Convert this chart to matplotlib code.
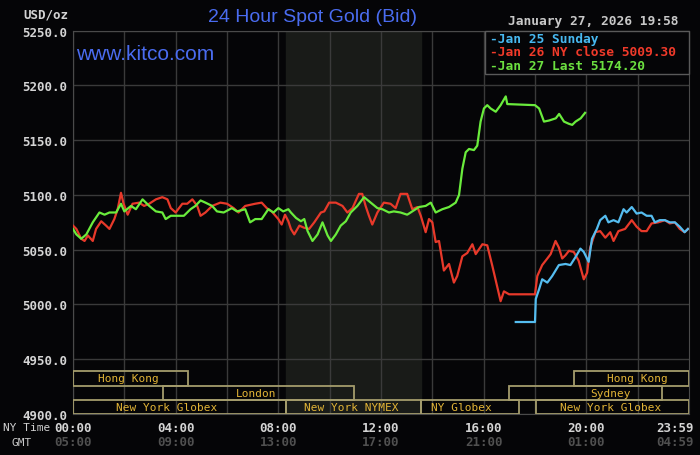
import matplotlib
matplotlib.use("Agg")
import matplotlib.pyplot as plt
from matplotlib.patches import Rectangle
import numpy as np

# --- data (hours NY time, USD/oz) ---
jan26_hours = [0.0, 0.13, 0.32, 0.45, 0.58, 0.77, 0.90, 1.10, 1.29, 1.42, 1.61, 1.74, 1.87, 1.97,
               2.13, 2.32, 2.58, 2.77, 2.97, 3.23, 3.48, 3.68, 3.81, 4.00, 4.26, 4.45, 4.65, 4.84,
               4.97, 5.16, 5.42, 5.74, 6.00, 6.26, 6.45, 6.71, 7.10, 7.35, 7.55, 7.74, 8.00, 8.13,
               8.26, 8.39, 8.49, 8.62, 8.82, 9.01, 9.20, 9.40, 9.66, 9.79, 9.98, 10.24, 10.50,
               10.69, 10.89, 11.14, 11.27, 11.40, 11.53, 11.66, 11.86, 12.11, 12.37, 12.57, 12.76,
               13.02, 13.22, 13.42, 13.55, 13.74, 13.87, 14.00, 14.13, 14.26, 14.45, 14.65, 14.84,
               14.97, 15.17, 15.36, 15.56, 15.69, 15.95, 16.14, 16.34, 16.47, 16.66, 16.79, 16.99,
               18.00, 18.09, 18.28, 18.48, 18.61, 18.80, 18.93, 19.06, 19.19, 19.32, 19.51, 19.70,
               19.90, 20.03, 20.15, 20.35, 20.54, 20.74, 20.93, 21.06, 21.25, 21.51, 21.77, 21.96,
               22.15, 22.35, 22.54, 22.80, 23.06, 23.25, 23.45, 23.64, 23.83, 23.96]
jan26_price = [5072, 5069, 5060, 5058, 5063, 5058, 5069, 5076, 5072, 5069, 5078, 5087, 5102, 5092,
               5082, 5092, 5093, 5090, 5092, 5096, 5098, 5096, 5088, 5084, 5092, 5092, 5096, 5090,
               5081, 5084, 5090, 5093, 5092, 5088, 5084, 5090, 5092, 5093, 5088, 5085, 5078, 5073,
               5082, 5076, 5069, 5064, 5072, 5070, 5069, 5075, 5084, 5085, 5093, 5093, 5090,
               5084, 5088, 5101, 5101, 5090, 5081, 5073, 5084, 5093, 5092, 5088, 5101,
               5101, 5087, 5089, 5081, 5066, 5078, 5075, 5057, 5058, 5031, 5037, 5020,
               5026, 5044, 5047, 5055, 5046, 5055, 5054, 5035, 5022, 5003, 5012, 5009.3,
               5009.3, 5026, 5036, 5042, 5046, 5058, 5052, 5042, 5045, 5049, 5048, 5040,
               5023, 5029, 5052, 5066, 5067, 5061, 5066, 5058, 5067, 5069, 5077, 5071,
               5067, 5067, 5074, 5075, 5077, 5074, 5075, 5069, 5066, 5069]

jan27_hours = [0.0, 0.13, 0.32, 0.52, 0.77, 1.03, 1.23, 1.42, 1.68, 1.87, 2.00, 2.26, 2.45, 2.71,
               2.97, 3.23, 3.48, 3.61, 3.81, 4.00, 4.32, 4.58, 4.77, 4.97, 5.16, 5.42, 5.61, 5.87,
               6.19, 6.39, 6.71, 6.90, 7.10, 7.35, 7.61, 7.81, 8.00, 8.19, 8.39, 8.49, 8.69, 8.88,
               9.01, 9.14, 9.33, 9.53, 9.72, 9.92, 10.05, 10.24, 10.43, 10.63, 10.82, 11.08, 11.34,
               11.60, 11.86, 12.05, 12.31, 12.50, 12.76, 13.02, 13.09, 13.48, 13.74, 13.94, 14.13,
               14.39, 14.65, 14.91, 15.04, 15.17, 15.30, 15.43, 15.62, 15.75, 15.88, 16.01, 16.14,
               16.27, 16.47, 16.66, 16.86, 16.92, 18.00, 18.16, 18.35, 18.55, 18.81, 18.94, 19.13,
               19.32, 19.45, 19.58, 19.78, 19.95]
jan27_price = [5069, 5064, 5060, 5064, 5075, 5084, 5082, 5084, 5084, 5092, 5085, 5090, 5087, 5096,
               5090, 5085, 5084, 5078, 5081, 5081, 5081, 5087, 5090, 5095, 5093, 5090, 5085, 5084,
               5088, 5085, 5087, 5075, 5078, 5078, 5087, 5084, 5088, 5085, 5087, 5084, 5079, 5076,
               5078, 5067, 5058, 5064, 5075, 5063, 5058, 5064, 5072, 5076, 5084, 5090, 5098,
               5093, 5088, 5087, 5084, 5085, 5084, 5082, 5083, 5089, 5090, 5093, 5084,
               5087, 5089, 5093, 5100, 5124, 5139, 5142, 5141, 5145, 5167, 5179, 5182,
               5179, 5176, 5182, 5190, 5183, 5182, 5179, 5167, 5168, 5170, 5174, 5167,
               5165, 5164, 5167, 5170, 5175]

jan25_hours = [17.25, 18.00, 18.03, 18.16, 18.28, 18.48, 18.67, 18.93, 19.19, 19.38, 19.57, 19.77,
               19.90, 20.09, 20.22, 20.41, 20.54, 20.74, 20.86, 21.06, 21.25, 21.45, 21.57, 21.77,
               21.96, 22.15, 22.35, 22.54, 22.67, 22.86, 23.06, 23.25, 23.45, 23.64, 23.83, 23.96]
jan25_price = [4984, 4984, 5005, 5014, 5023, 5020, 5026, 5036, 5037, 5036, 5043, 5051,
               5048, 5039, 5060, 5069, 5077, 5081, 5075, 5077, 5075, 5087, 5084, 5089,
               5083, 5084, 5081, 5081, 5075, 5077, 5077, 5075, 5075, 5071, 5066, 5069]

legend_labels = ["-Jan 25 Sunday", "-Jan 26 NY close 5009.30", "-Jan 27 Last 5174.20"]

ny_ticks = [0, 4, 8, 12, 16, 20]
ny_labels = ["00:00", "04:00", "08:00", "12:00", "16:00", "20:00", "23:59"]
gmt_labels = ["05:00", "09:00", "13:00", "17:00", "21:00", "01:00", "04:59"]

# sessions: (row, start hour, end hour, name)
sessions = [
    (2, 0.0, 4.47, "Hong Kong"),
    (1, 3.5, 10.95, "London"),
    (0, 0.0, 8.31, "New York Globex"),
    (0, 8.31, 13.55, "New York NYMEX"),
    (0, 13.55, 17.36, "NY Globex"),
    (1, 16.97, 22.94, "Sydney"),
    (2, 19.5, 24.0, "Hong Kong"),
    (0, 18.02, 24.0, "New York Globex"),
]
session_text_at = [2.14, 7.15, 3.65, 10.83, 15.15, 20.93, 21.98, 20.93]

nymex_start, nymex_end = 8.31, 13.55

W, H = 700, 456
BG = "#050507"
BLUE_T = "#4a6cf0"
GRIDC = "#3a3a3a"
MONO = "DejaVu Sans Mono"


def fx(px):
    return px / W


def fy(py):
    return 1 - py / H


fig = plt.figure(figsize=(7, 4.56), dpi=100, facecolor=BG)
ax = fig.add_axes([fx(73), fy(415), (689 - 73) / W, (415 - 31.7) / H], facecolor=BG)

ax.axvspan(nymex_start, nymex_end, color="#191b18", zorder=0)

ax.set_xlim(0, 24)
ax.set_ylim(4900, 5250)
ax.set_xticks(np.arange(0, 24, 2))
ax.set_xticklabels([])
yt = np.arange(4900, 5251, 50)
ax.set_yticks(yt)
ax.set_yticklabels([f"{v:.1f}" for v in yt], fontfamily=MONO, fontsize=9,
                   fontweight="bold", color="#d4d4d4")
ax.tick_params(length=0, pad=4)
ax.grid(True, color=GRIDC, linewidth=1, zorder=1)
ax.set_axisbelow(True)
for s in ax.spines.values():
    s.set_color("#4a4a4a")

ax.plot(jan26_hours, jan26_price, color="#e8392a", linewidth=1.6, zorder=3)
ax.plot(jan25_hours, jan25_price, color="#55bdf0", linewidth=1.6, zorder=4)
ax.plot(jan27_hours, jan27_price, color="#6aec3c", linewidth=1.6, zorder=5)

# session boxes along the bottom
row_h = 13
for (row, a, b, name), tx in zip(sessions, session_text_at):
    y0 = 4900 + row * row_h
    ax.add_patch(Rectangle((a, y0), b - a, row_h, facecolor="none",
                           edgecolor="#a49c6c", linewidth=1.3, zorder=6))
    ax.text(tx, y0 + row_h / 2, name, ha="center", va="center", fontfamily=MONO,
            fontsize=8, color="#e2b436", zorder=7)

# x labels: NY time and GMT rows
trans = ax.get_xaxis_transform()
for i, lab in enumerate(ny_labels):
    x = ny_ticks[i] if i < len(ny_ticks) else 23.45
    ax.text(x, -0.034, lab, transform=trans, ha="center", va="center", fontfamily=MONO,
            fontsize=9, fontweight="bold", color="#d4d4d4", clip_on=False)
    ax.text(x, -0.073, gmt_labels[i], transform=trans, ha="center", va="center",
            fontfamily=MONO, fontsize=9, fontweight="bold", color="#505050", clip_on=False)
fig.text(fx(50), fy(428), "NY Time", ha="right", va="center", fontfamily=MONO,
         fontsize=8, color="#d0d0d0")
fig.text(fx(22), fy(443), "GMT", ha="center", va="center", fontfamily=MONO,
         fontsize=8, color="#c8c8c8")

# titles
fig.text(fx(68), fy(15), "USD/oz", ha="right", va="center", fontfamily=MONO,
         fontsize=9, fontweight="bold", color="#d4d4d4")
fig.text(fx(313), fy(18), "24 Hour Spot Gold (Bid)", ha="center", va="center",
         fontfamily="Liberation Sans", fontsize=14, color=BLUE_T)
fig.text(fx(76), fy(54), "www.kitco.com", ha="left", va="center",
         fontfamily="Liberation Sans", fontsize=15, color=BLUE_T)
fig.text(fx(678), fy(22), "January 27, 2026 19:58", ha="right", va="center",
         fontfamily=MONO, fontsize=9.3, fontweight="bold", color="#c8c8c8")

# legend box
fig.patches.append(Rectangle((fx(485), fy(75)), (689 - 485) / W, (75 - 31.7) / H,
                             transform=fig.transFigure, facecolor=BG,
                             edgecolor="#5a5a5a", linewidth=1, zorder=10))
leg_colors = ["#47b8f0", "#f03a2a", "#6ce040"]
for i, (lab, c) in enumerate(zip(legend_labels, leg_colors)):
    fig.text(fx(490), fy(39 + i * 13.5), lab, ha="left", va="center", fontfamily=MONO,
             fontsize=9.3, fontweight="bold", color=c, zorder=11)

fig.savefig("out.png", dpi=100, facecolor=BG)
